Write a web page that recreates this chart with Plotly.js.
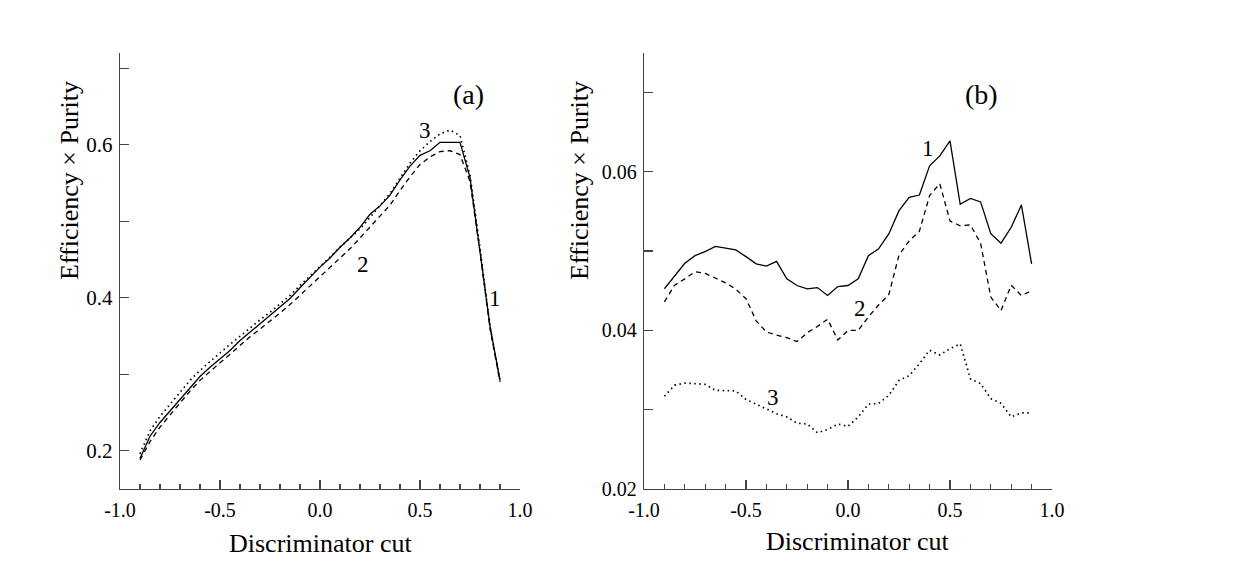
<!DOCTYPE html>
<html>
<head>
<meta charset="utf-8">
<script src="https://cdn.plot.ly/plotly-3.0.1.min.js"></script>
<style>html,body{margin:0;padding:0;background:#fff;}#chart{width:1250px;height:574px;}</style>
</head>
<body>
<div id="chart"></div>
<script>
// Discriminator cut values (shared by all series)
const cuts = [-0.9,-0.85,-0.8,-0.75,-0.7,-0.65,-0.6,-0.55,-0.5,-0.45,-0.4,-0.35,-0.3,-0.25,-0.2,-0.15,-0.1,-0.05,0.0,0.05,0.1,0.15,0.2,0.25,0.3,0.35,0.4,0.45,0.5,0.55,0.6,0.65,0.7,0.75,0.8,0.85,0.9];

// Panel (a)
const a1 = [0.190,0.219,0.237,0.252,0.268,0.283,0.297,0.309,0.320,0.331,0.344,0.355,0.366,0.376,0.387,0.399,0.413,0.427,0.440,0.452,0.466,0.478,0.492,0.509,0.520,0.534,0.554,0.572,0.586,0.592,0.603,0.603,0.603,0.557,0.462,0.363,0.292];
const a2 = [0.188,0.212,0.231,0.247,0.263,0.278,0.292,0.304,0.315,0.326,0.338,0.349,0.359,0.369,0.380,0.391,0.403,0.416,0.428,0.440,0.452,0.464,0.478,0.492,0.506,0.521,0.540,0.558,0.574,0.584,0.591,0.592,0.587,0.552,0.460,0.360,0.290];
const a3 = [0.196,0.226,0.245,0.261,0.277,0.292,0.305,0.317,0.328,0.339,0.350,0.361,0.371,0.381,0.392,0.403,0.416,0.428,0.440,0.453,0.466,0.478,0.490,0.505,0.520,0.536,0.556,0.576,0.592,0.604,0.614,0.619,0.612,0.560,0.465,0.362,0.292];

// Panel (b)
const b1 = [0.04525,0.0469,0.04847,0.04943,0.04994,0.0506,0.05035,0.05015,0.0493,0.0484,0.0481,0.0487,0.0465,0.04566,0.04525,0.0454,0.0444,0.04553,0.04566,0.0465,0.04943,0.05028,0.05216,0.0551,0.05677,0.05707,0.06075,0.062,0.0639,0.0559,0.05665,0.0562,0.0522,0.0510,0.0530,0.05582,0.0484];
const b2 = [0.0436,0.0457,0.0465,0.0474,0.0472,0.0466,0.0460,0.0452,0.0440,0.0412,0.0398,0.0394,0.0391,0.0386,0.0397,0.0405,0.0414,0.0388,0.0400,0.0400,0.0417,0.0432,0.0445,0.0495,0.0513,0.0525,0.0570,0.0585,0.0538,0.0532,0.0533,0.0510,0.0442,0.0425,0.0457,0.0444,0.0450];
const b3 = [0.0317,0.0331,0.03337,0.0333,0.0332,0.03245,0.03237,0.03237,0.0313,0.0307,0.0300,0.0295,0.0291,0.0283,0.0282,0.0271,0.0275,0.0282,0.0279,0.0291,0.0307,0.0308,0.0318,0.0337,0.0343,0.0358,0.0375,0.0369,0.0377,0.0383,0.0339,0.0333,0.0314,0.0308,0.0291,0.0296,0.0296];

// Tick labels
const xTickVals = [-1.0,-0.5,0.0,0.5,1.0];
const xTickText = ["-1.0","-0.5","0.0","0.5","1.0"];
const yaTickVals = [0.2,0.4,0.6];
const yaTickText = ["0.2","0.4","0.6"];
const ybTickVals = [0.02,0.04,0.06];
const ybTickText = ["0.02","0.04","0.06"];

const FONT = "Liberation Serif, Times New Roman, serif";
const solid = {color:'#000', width:1.3, dash:'solid'};
const dashed = {color:'#000', width:1.3, dash:'5px,4px'};
const dotted = {color:'#000', width:1.7, dash:'1.5px,3.5px'};

const traces = [
  {x:cuts, y:a1, xaxis:'x', yaxis:'y', mode:'lines', line:solid},
  {x:cuts, y:a2, xaxis:'x', yaxis:'y', mode:'lines', line:dashed},
  {x:cuts, y:a3, xaxis:'x', yaxis:'y', mode:'lines', line:dotted},
  {x:cuts, y:b1, xaxis:'x2', yaxis:'y2', mode:'lines', line:solid},
  {x:cuts, y:b2, xaxis:'x2', yaxis:'y2', mode:'lines', line:dashed},
  {x:cuts, y:b3, xaxis:'x2', yaxis:'y2', mode:'lines', line:dotted}
];

function xAxis(domain, anchor){
  return {domain:domain, anchor:anchor, range:[-1,1], showgrid:false, zeroline:false,
    showline:true, linecolor:'#444', linewidth:1.2, ticks:'inside', ticklen:9, tickcolor:'#444', tickwidth:1.2,
    tickvals:xTickVals, ticktext:xTickText, tickfont:{family:FONT, size:20, color:'#000'},
    minor:{tickvals:[-0.9,-0.8,-0.7,-0.6,-0.4,-0.3,-0.2,-0.1,0.1,0.2,0.3,0.4,0.6,0.7,0.8,0.9], ticks:'inside', ticklen:5, tickcolor:'#444', tickwidth:1.2},
    ticklabelstandoff:3, fixedrange:true};
}
function yAxis(domain, anchor, range, vals, text, minorVals, size){
  return {domain:domain, anchor:anchor, range:range, showgrid:false, zeroline:false,
    showline:true, linecolor:'#444', linewidth:1.2, ticks:'inside', ticklen:9, tickcolor:'#444', tickwidth:1.2,
    tickvals:vals, ticktext:text, tickfont:{family:FONT, size:size, color:'#000'},
    minor:{tickvals:minorVals, ticks:'inside', ticklen:9, tickcolor:'#444', tickwidth:1.2},
    ticklabelstandoff:2, fixedrange:true};
}

function lab(text, x, y, xref, yref, size){
  return {text:text, x:x, y:y, xref:xref, yref:yref, showarrow:false, font:{family:FONT, size:size||23, color:'#000'}, xanchor:'center', yanchor:'middle'};
}

const layout = {
  width:1250, height:574, margin:{l:0,r:0,t:0,b:0},
  paper_bgcolor:'#fff', plot_bgcolor:'#fff', showlegend:false,
  xaxis: xAxis([0.096,0.416], 'y'),
  yaxis: yAxis([0.148,0.908], 'x', [0.15,0.72], yaTickVals, yaTickText, [0.3,0.5,0.7], 21),
  xaxis2: xAxis([0.5152,0.8416], 'y2'),
  yaxis2: yAxis([0.148,0.908], 'x2', [0.02,0.075], ybTickVals, ybTickText, [0.03,0.05,0.07], 20),
  annotations: [
    lab('3', 0.525, 0.618, 'x', 'y'),
    lab('2', 0.217, 0.444, 'x', 'y'),
    lab('1', 0.875, 0.399, 'x', 'y'),
    lab('(a)', 0.74, 0.666, 'x', 'y', 28),
    lab('1', 0.392, 0.0629, 'x2', 'y2'),
    lab('2', 0.057, 0.0428, 'x2', 'y2'),
    lab('3', -0.368, 0.0316, 'x2', 'y2'),
    lab('(b)', 0.654, 0.0698, 'x2', 'y2', 28),
    Object.assign(lab('Efficiency × Purity', 70/1250, 1-181/574, 'paper', 'paper', 26), {textangle:-90}),
    Object.assign(lab('Efficiency × Purity', 580/1250, 1-181/574, 'paper', 'paper', 26), {textangle:-90}),
    lab('Discriminator cut', 321/1250, 1-543/574, 'paper', 'paper', 26),
    lab('Discriminator cut', 857/1250, 1-541/574, 'paper', 'paper', 26)
  ]
};

Plotly.newPlot('chart', traces, layout, {displayModeBar:false, staticPlot:true});
</script>
</body>
</html>
